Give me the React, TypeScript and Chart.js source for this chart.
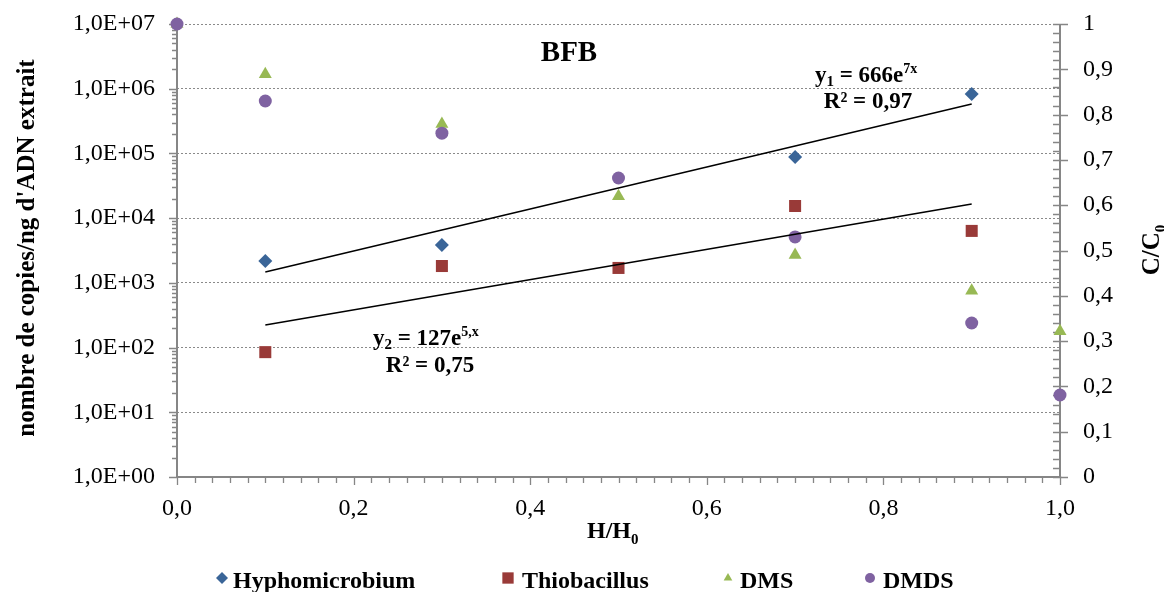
import React, { useEffect, useRef } from 'react';
import { Chart, registerables } from 'chart.js';

Chart.register(...registerables);

// ---- data ----
const hyphoX = [0.1, 0.3, 0.7, 0.9];
const hyphoY = [2180, 3850, 88000, 830000];
const thioX = [0.1, 0.3, 0.5, 0.7, 0.9];
const thioY = [85, 1820, 1700, 15400, 6350];
const ratioX = [0, 0.1, 0.3, 0.5, 0.7, 0.9, 1.0];
const dmsY = [1.0, 0.889, 0.779, 0.62, 0.49, 0.411, 0.322];
const dmdsY = [1.0, 0.83, 0.759, 0.66, 0.53, 0.34, 0.181];
const trend1X = [0.1, 0.9];
const trend1Y = [1470, 581000];
const trend2X = [0.1, 0.9];
const trend2Y = [223, 16500];
const logTickValues = [1, 10, 100, 1000, 1e4, 1e5, 1e6, 1e7];
const logTickLabels = ['1,0E+00', '1,0E+01', '1,0E+02', '1,0E+03', '1,0E+04', '1,0E+05', '1,0E+06', '1,0E+07'];
const seriesNames = ['Hyphomicrobium', 'Thiobacillus', 'DMS', 'DMDS'];

const FONT = "'Liberation Serif', 'Times New Roman', serif";
const BLUE = '#3A6598';
const RED = '#993A38';
const GREEN = '#98B954';
const PURPLE = '#7F62A1';
const AXIS = '#868686';

const pts = (xs: number[], ys: number[]) => xs.map((x, i) => ({ x, y: ys[i] }));

type Seg = { t: string; size: number; dy?: number; bold?: boolean };
function rich(ctx: CanvasRenderingContext2D, segs: Seg[], x: number, y: number, align: 'left' | 'center') {
  let total = 0;
  for (const s of segs) {
    ctx.font = `${s.bold === false ? '' : 'bold '}${s.size}px ${FONT}`;
    total += ctx.measureText(s.t).width;
  }
  let cx = align === 'center' ? x - total / 2 : x;
  ctx.textAlign = 'left';
  ctx.textBaseline = 'alphabetic';
  for (const s of segs) {
    ctx.font = `${s.bold === false ? '' : 'bold '}${s.size}px ${FONT}`;
    ctx.fillText(s.t, cx, y + (s.dy || 0));
    cx += ctx.measureText(s.t).width;
  }
}

function drawMarker(ctx: CanvasRenderingContext2D, style: string, x: number, y: number, r: number, color: string) {
  ctx.fillStyle = color;
  ctx.beginPath();
  if (style === 'rectRot') {
    ctx.moveTo(x, y - r); ctx.lineTo(x + r, y); ctx.lineTo(x, y + r); ctx.lineTo(x - r, y);
  } else if (style === 'rect') {
    const s = r * Math.SQRT1_2;
    ctx.rect(x - s, y - s, 2 * s, 2 * s);
  } else if (style === 'triangle') {
    ctx.moveTo(x, y - r);
    ctx.lineTo(x + r * 0.866, y + r * 0.5);
    ctx.lineTo(x - r * 0.866, y + r * 0.5);
  } else {
    ctx.arc(x, y, r, 0, Math.PI * 2);
  }
  ctx.closePath();
  ctx.fill();
}

const axesPlugin = {
  id: 'customAxes',
  beforeDatasetsDraw(chart: any) {
    const ctx: CanvasRenderingContext2D = chart.ctx;
    const { left, right, top, bottom } = chart.chartArea;
    const xs = chart.scales.x, ys = chart.scales.y, y1 = chart.scales.y1;
    ctx.save();
    ctx.strokeStyle = AXIS;
    ctx.lineWidth = 2;
    ctx.beginPath();
    ctx.moveTo(left, top); ctx.lineTo(left, bottom + 1);
    ctx.moveTo(left - 1, bottom); ctx.lineTo(right + 1, bottom);
    ctx.moveTo(right, top); ctx.lineTo(right, bottom + 1);
    ctx.stroke();
    ctx.lineWidth = 1.3;
    ctx.beginPath();
    for (let n = 0; n <= 7; n++) {
      const p = Math.round(ys.getPixelForValue(Math.pow(10, n))) + 0.5;
      ctx.moveTo(left - 8, p); ctx.lineTo(left, p);
      if (n < 7) {
        for (let k = 2; k <= 9; k++) {
          const q = Math.round(ys.getPixelForValue(k * Math.pow(10, n))) + 0.5;
          ctx.moveTo(left - 5, q); ctx.lineTo(left, q);
        }
      }
    }
    for (let i = 0; i <= 50; i++) {
      const p = Math.round(xs.getPixelForValue(i / 50)) + 0.5;
      if (i % 10 === 0) { ctx.moveTo(p, bottom - 1); ctx.lineTo(p, bottom + 8); }
      else { ctx.moveTo(p, bottom); ctx.lineTo(p, bottom + 6); }
    }
    for (let i = 0; i <= 50; i++) {
      const p = Math.round(y1.getPixelForValue(i / 50)) + 0.5;
      if (i % 5 === 0) { ctx.moveTo(right - 7, p); ctx.lineTo(right + 8, p); }
      else { ctx.moveTo(right - 7, p); ctx.lineTo(right, p); }
    }
    ctx.stroke();
    ctx.restore();
  },
};

const textPlugin = {
  id: 'customText',
  afterDraw(chart: any) {
    const ctx: CanvasRenderingContext2D = chart.ctx;
    ctx.save();
    ctx.fillStyle = '#000';
    // title
    rich(ctx, [{ t: 'BFB', size: 29 }], 569, 61, 'center');
    // trend equations
    rich(ctx, [
      { t: 'y', size: 23 }, { t: '1', size: 15, dy: 4 }, { t: ' = 666e', size: 23 }, { t: '7x', size: 14, dy: -9 },
    ], 815, 82, 'left');
    rich(ctx, [{ t: 'R² = 0,97', size: 23 }], 868, 108, 'center');
    rich(ctx, [
      { t: 'y', size: 23 }, { t: '2', size: 15, dy: 4 }, { t: ' = 127e', size: 23 }, { t: '5,x', size: 14, dy: -9 },
    ], 373, 345, 'left');
    rich(ctx, [{ t: 'R² = 0,75', size: 23 }], 430, 372, 'center');
    // x title
    rich(ctx, [{ t: 'H/H', size: 24 }, { t: '0', size: 15, dy: 6 }], 587, 538, 'left');
    // left title
    ctx.save();
    ctx.translate(34, 248);
    ctx.rotate(-Math.PI / 2);
    rich(ctx, [{ t: "nombre de copies/ng d'ADN extrait", size: 25 }], 0, 0, 'center');
    ctx.restore();
    // right title
    ctx.save();
    ctx.translate(1159, 250);
    ctx.rotate(-Math.PI / 2);
    rich(ctx, [{ t: 'C/C', size: 25 }, { t: '0', size: 15, dy: 6 }], 0, 0, 'center');
    ctx.restore();
    // legend
    const mx = [222, 508, 728, 870];
    const tx = [233, 522, 740, 883];
    [0, 1, 2, 3].forEach((i) => {
      const ds = chart.data.datasets[i];
      const r = ds.pointStyle === 'rect' ? 8 : ds.pointStyle === 'rectRot' ? 6 : 5;
      drawMarker(ctx, ds.pointStyle, mx[i], 578, r, ds.backgroundColor);
      ctx.fillStyle = '#000';
      rich(ctx, [{ t: ds.label, size: 24 }], tx[i], 588, 'left');
    });
    ctx.restore();
  },
};

const noPad = (s: any) => { s.paddingTop = 0; s.paddingBottom = 0; s.paddingLeft = 0; s.paddingRight = 0; };

export default function App() {
  const ref = useRef<HTMLCanvasElement | null>(null);
  useEffect(() => {
    if (!ref.current) return;
    Chart.defaults.color = '#000';
    const chart = new Chart(ref.current, {
      type: 'scatter',
      data: {
        datasets: [
          { label: seriesNames[0], data: pts(hyphoX, hyphoY), yAxisID: 'y', pointStyle: 'rectRot', pointRadius: 7, backgroundColor: BLUE, borderColor: BLUE, borderWidth: 0, order: 4, clip: false } as any,
          { label: seriesNames[1], data: pts(thioX, thioY), yAxisID: 'y', pointStyle: 'rect', pointRadius: 8.5, backgroundColor: RED, borderColor: RED, borderWidth: 0, order: 3, clip: false } as any,
          { label: seriesNames[2], data: pts(ratioX, dmsY), yAxisID: 'y1', pointStyle: 'triangle', pointRadius: 7.5, backgroundColor: GREEN, borderColor: GREEN, borderWidth: 0, order: 2, clip: false } as any,
          { label: seriesNames[3], data: pts(ratioX, dmdsY), yAxisID: 'y1', pointStyle: 'circle', pointRadius: 6.5, backgroundColor: PURPLE, borderColor: PURPLE, borderWidth: 0, order: 1, clip: false } as any,
          { label: 'trend1', type: 'line', data: pts(trend1X, trend1Y), yAxisID: 'y', showLine: true, pointRadius: 0, borderColor: '#000', borderWidth: 1.5, order: 0 } as any,
          { label: 'trend2', type: 'line', data: pts(trend2X, trend2Y), yAxisID: 'y', showLine: true, pointRadius: 0, borderColor: '#000', borderWidth: 1.5, order: 0 } as any,
        ],
      },
      options: {
        animation: false,
        responsive: false,
        maintainAspectRatio: false,
        layout: { padding: { top: 24, left: 0, right: 0, bottom: 0 } },
        plugins: { legend: { display: false }, tooltip: { enabled: false }, title: { display: false } },
        scales: {
          x: {
            type: 'linear', position: 'bottom', min: 0, max: 1,
            grid: { display: false, drawTicks: false },
            border: { display: false },
            ticks: {
              stepSize: 0.2, padding: 17, maxRotation: 0, autoSkip: false, color: '#000',
              font: { family: FONT, size: 24 },
              callback: (v: any) => Number(v).toFixed(1).replace('.', ','),
            },
            afterFit: (s: any) => { s.height = 115; noPad(s); },
          },
          y: {
            type: 'logarithmic', position: 'left', min: 1, max: 1e7,
            grid: { display: true, drawOnChartArea: true, drawTicks: false, color: '#8a8a8a', lineWidth: 1 },
            border: { display: false, dash: [2, 2] },
            afterBuildTicks: (s: any) => { s.ticks = logTickValues.map((v) => ({ value: v })); },
            ticks: {
              padding: 22, autoSkip: false, color: '#000',
              font: { family: FONT, size: 24 },
              callback: (_v: any, i: number) => logTickLabels[i],
            },
            afterFit: (s: any) => { s.width = 177; noPad(s); },
          },
          y1: {
            type: 'linear', position: 'right', min: 0, max: 1,
            grid: { display: false, drawTicks: false },
            border: { display: false },
            ticks: {
              stepSize: 0.1, padding: 23, autoSkip: false, color: '#000',
              font: { family: FONT, size: 24 },
              callback: (v: any) => {
                const n = Number(v);
                if (Math.abs(n) < 1e-9) return '0';
                if (Math.abs(n - 1) < 1e-9) return '1';
                return n.toFixed(1).replace('.', ',');
              },
            },
            afterFit: (s: any) => { s.width = 104; noPad(s); },
          },
        },
      } as any,
      plugins: [axesPlugin, textPlugin],
    });
    return () => chart.destroy();
  }, []);
  return (
    <div style={{ position: 'fixed', left: 0, top: 0, width: 1164, height: 592, background: '#fff' }}>
      <canvas ref={ref} width={1164} height={592} style={{ width: 1164, height: 592, display: 'block' }} />
    </div>
  );
}
